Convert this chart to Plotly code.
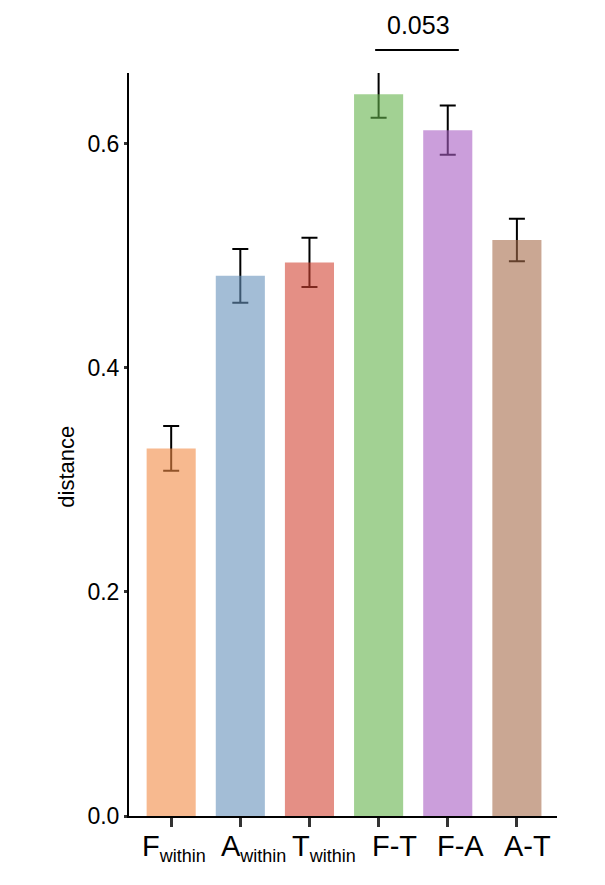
import plotly.graph_objects as go

categories = ["F<sub><span style='font-size:18px'>within</span></sub>",
              "A<sub><span style='font-size:18px'>within</span></sub>",
              "T<sub><span style='font-size:18px'>within</span></sub>",
              "F-T", "F-A", "A-T"]
means = [0.328, 0.482, 0.494, 0.644, 0.612, 0.514]
errors = [0.020, 0.024, 0.022, 0.021, 0.022, 0.019]
colors = ["rgba(242,138,68,0.6)", "rgba(102,145,187,0.6)", "rgba(210,68,52,0.6)",
          "rgba(100,178,75,0.6)", "rgba(168,93,195,0.6)", "rgba(167,108,75,0.6)"]
label_xshift = [3, 13, 15, 16, 13, 11]
y_title = "distance"
pvalue_text = "0.053"
pvalue_pair = [3, 4]

x = list(range(len(categories)))
font = "Liberation Sans, Arial, sans-serif"

fig = go.Figure()
# error bars underneath (drawn first)
fig.add_trace(go.Bar(
    x=x, y=means, marker=dict(color="rgba(0,0,0,0)", line=dict(width=0)),
    error_y=dict(type="data", array=errors, color="black", thickness=2, width=8),
    cliponaxis=False, hoverinfo="skip", showlegend=False))
# translucent bars on top
fig.add_trace(go.Bar(
    x=x, y=means, marker=dict(color=colors, line=dict(width=0)),
    showlegend=False))

fig.update_layout(
    width=605, height=885,
    barmode="overlay", bargap=0.29,
    plot_bgcolor="white", paper_bgcolor="white",
    margin=dict(l=121, r=56, t=65, b=77),
    font=dict(family=font, color="black"),
    xaxis=dict(
        range=[-0.61, 5.58], tickmode="array", tickvals=x, showticklabels=False,
        showline=True, linecolor="black", linewidth=2,
        ticks="outside", ticklen=9, tickwidth=3, tickcolor="#333333",
        showgrid=False, zeroline=False,
    ),
    yaxis=dict(
        range=[0, 0.663], tickvals=[0, 0.2, 0.4, 0.6], ticktext=["0.0", "0.2", "0.4", "0.6"],
        showline=True, linecolor="black", linewidth=2,
        ticks="outside", ticklen=3, tickwidth=3, tickcolor="#333333",
        tickfont=dict(size=23, family=font), showgrid=False, zeroline=False,
    ),
)

for xi, lab, dx in zip(x, categories, label_xshift):
    fig.add_annotation(xref="x", yref="y", x=xi, y=0, text=lab, showarrow=False,
                       xanchor="center", yanchor="top", xshift=dx, yshift=-12,
                       font=dict(size=29, family=font, color="black"))

fig.add_annotation(xref="paper", yref="paper", x=-0.145, y=0.47, text=y_title,
                   textangle=-90, showarrow=False, xanchor="center", yanchor="middle",
                   font=dict(size=22, family=font, color="black"))

fig.add_shape(type="line", xref="x", yref="paper",
              x0=pvalue_pair[0] - 0.05, x1=pvalue_pair[1] + 0.16, y0=1.031, y1=1.031,
              line=dict(color="black", width=2))
fig.add_annotation(xref="x", yref="paper", x=(pvalue_pair[0] + pvalue_pair[1]) / 2 + 0.07,
                   y=1.065, text=pvalue_text, showarrow=False,
                   font=dict(size=25, family=font, color="black"), yanchor="middle")

fig.write_html("out.html")
